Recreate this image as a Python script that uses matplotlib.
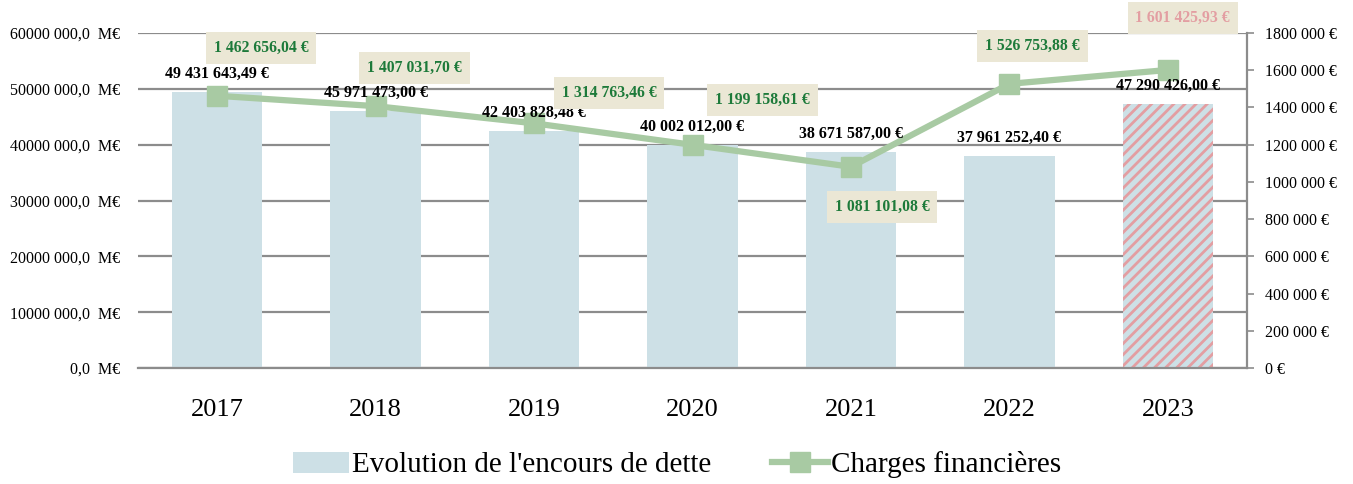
import matplotlib
matplotlib.use("Agg")
import matplotlib.pyplot as plt
from matplotlib.ticker import FuncFormatter, MultipleLocator
from matplotlib.patches import Patch
from matplotlib.lines import Line2D

years = ["2017", "2018", "2019", "2020", "2021", "2022", "2023"]
encours = [49431643.49, 45971473.00, 42403828.48, 40002012.00, 38671587.00, 37961252.40, 47290426.00]
charges = [1462656.04, 1407031.70, 1314763.46, 1199158.61, 1081101.08, 1526753.88, 1601425.93]
encours_labels = ["49 431 643,49 €", "45 971 473,00 €", "42 403 828,48 €", "40 002 012,00 €",
                  "38 671 587,00 €", "37 961 252,40 €", "47 290 426,00 €"]
charges_labels = ["1 462 656,04 €", "1 407 031,70 €", "1 314 763,46 €", "1 199 158,61 €",
                  "1 081 101,08 €", "1 526 753,88 €", "1 601 425,93 €"]

# layout: label offsets in pixels (dx, dy) for line labels
charge_offsets = [(44, 48), (39, 38), (75, 30), (70, 45), (31, -40), (23, 38), (15, 52)]

plt.rcParams['font.family'] = ['Liberation Serif', 'DejaVu Serif']
plt.rcParams['hatch.linewidth'] = 2.0

BAR = "#cde0e6"
LINE = "#a8caa3"
GRID = "#8c8c8c"
BOX = "#ebe7d5"
GREEN = "#1d7a3a"
PINK = "#e39ea2"

fig = plt.figure(figsize=(13.53, 4.84), dpi=100)
ax = fig.add_axes([138/1353, 1-368/484, (1247-138)/1353, (368-33)/484])
x = list(range(len(years)))

bars = ax.bar(x, encours, width=0.57, color=BAR, zorder=2, linewidth=0)
bars[-1].set_hatch('///')
bars[-1].set_edgecolor(PINK)
bars[-1].set_facecolor(BAR)

ax.set_ylim(0, 60000000)
ax.set_xlim(-0.5, len(years)-0.5)
ax.yaxis.set_major_locator(MultipleLocator(10000000))

def lfmt(v, pos):
    v = int(round(v))
    if v == 0:
        return "0,0  M€"
    return f"{v//1000} {v % 1000:03d},0  M€"
ax.yaxis.set_major_formatter(FuncFormatter(lfmt))
ax.grid(axis='y', color=GRID, linewidth=1.6, zorder=0)
ax.set_axisbelow(True)
for s in ['top', 'left', 'right']:
    ax.spines[s].set_visible(False)
ax.spines['bottom'].set_color(GRID)
ax.spines['bottom'].set_linewidth(1.6)
ax.tick_params(axis='y', length=0, pad=13, labelsize=11.5)
ax.tick_params(axis='x', length=0, pad=22, labelsize=19)
ax.set_xticks(x)
ax.set_xticklabels(years)

ax2 = ax.twinx()
ax2.set_ylim(0, 1800000)
ax2.yaxis.set_major_locator(MultipleLocator(200000))

def rfmt(v, pos):
    v = int(round(v))
    if v == 0:
        return "0 €"
    return f"{v//1000} {v % 1000:03d} €"
ax2.yaxis.set_major_formatter(FuncFormatter(rfmt))
for s in ['top', 'left', 'bottom']:
    ax2.spines[s].set_visible(False)
ax2.spines['right'].set_color(GRID)
ax2.spines['right'].set_linewidth(1.6)
ax2.tick_params(axis='y', direction='out', length=5, width=1.2, color=GRID, labelsize=11.5, pad=8)

ax2.plot(x, charges, color=LINE, linewidth=4.5, marker='s', markersize=14,
         markerfacecolor=LINE, markeredgecolor=LINE, zorder=4)

# bar value labels drawn on top of the line
for xi, v, lab in zip(x, encours, encours_labels):
    ax2.annotate(lab, xy=(xi, v), xycoords=ax.transData, xytext=(0, 10), textcoords='offset pixels',
                 ha='center', va='bottom', fontsize=11.5, fontweight='bold', color='black',
                 zorder=5, annotation_clip=False)

for i, (xi, v, lab) in enumerate(zip(x, charges, charges_labels)):
    dx, dy = charge_offsets[i]
    col = PINK if i == len(x)-1 else GREEN
    ax2.annotate(lab, xy=(xi, v), xytext=(dx, dy), textcoords='offset pixels',
                 ha='center', va='center', fontsize=11.3, fontweight='bold', color=col,
                 bbox=dict(boxstyle='square,pad=0.5', facecolor=BOX, edgecolor='none'),
                 zorder=6, annotation_clip=False)

handles = [Patch(facecolor=BAR, edgecolor='none'),
           Line2D([0], [0], color=LINE, linewidth=4.5, marker='s', markersize=14,
                  markerfacecolor=LINE, markeredgecolor=LINE)]
fig.legend(handles, ["Evolution de l'encours de dette", "Charges financières"],
           loc='center', bbox_to_anchor=(677/1353, 1-465/484), ncol=2, frameon=False,
           fontsize=21, handlelength=1.9, handleheight=0.7, handletextpad=0.1, columnspacing=2.1)

fig.savefig("out.png", dpi=100)
